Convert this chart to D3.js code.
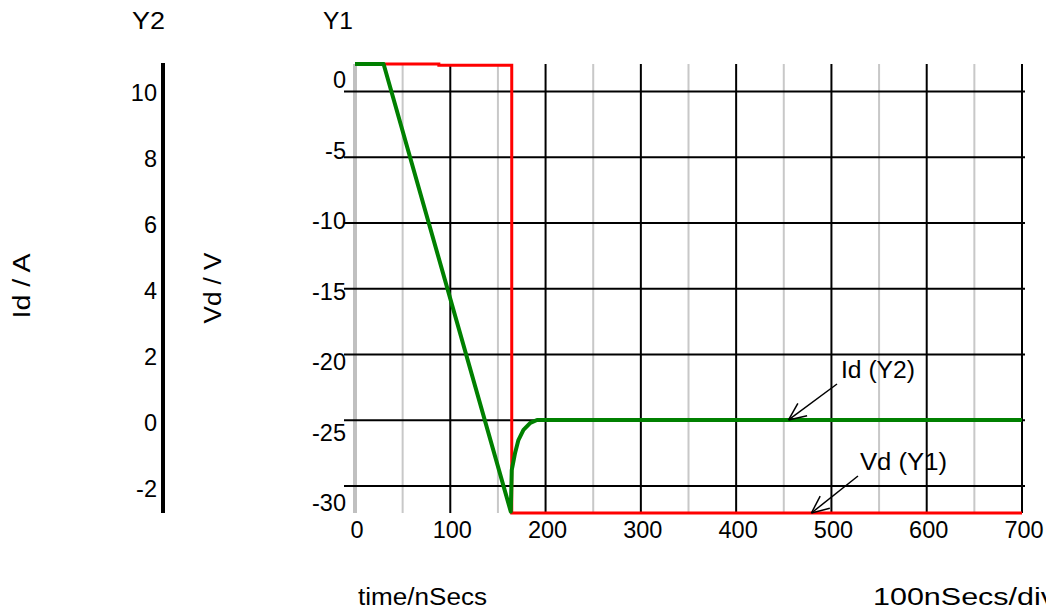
<!DOCTYPE html>
<html>
<head>
<meta charset="utf-8">
<script src="https://cdn.jsdelivr.net/npm/d3@7"></script>
<style>
  body { margin: 0; background: #fff; }
  text { font-family: "Liberation Sans", Arial, sans-serif; fill: #000; }
</style>
</head>
<body>
<div class="container"></div>
<script>
// chart size
const width = 1046;
const height = 610;
const plot = { left: 355, right: 1022, top: 64, bottom: 513 };

// data
const xTicks = [0, 100, 200, 300, 400, 500, 600, 700];
const xMinor = [50, 150, 250, 350, 450, 550, 650];
const y1Ticks = [0, -5, -10, -15, -20, -25, -30];
const y2Ticks = [10, 8, 6, 4, 2, 0, -2];

// Vd (Y1), volts
const vdTime = [0, 88, 88, 164.5, 164.5, 700];
const vdValue = [2.1, 2.1, 2.0, 2.0, -32.05, -32.05];

// Id (Y2), amps
const idTime = [0, 30, 163.5, 164.5, 168, 171.5, 176.8, 184, 191, 700];
const idValue = [10.79, 10.79, -2.78, -1.52, -1.0, -0.61, -0.30, -0.09, 0, 0];

const svg = d3.select(".container")
  .append("svg")
  .attr("width", width)
  .attr("height", height);

// scales
const x = d3.scaleLinear().domain([0, 700]).range([plot.left, plot.right]);
const y1 = d3.scaleLinear().domain([-32.05, 2.1]).range([plot.bottom, plot.top]);
const y2 = d3.scaleLinear().domain([-2.82, 10.79]).range([plot.bottom, plot.top]);
// the Y1 numbers are spread evenly and do not sit exactly on their grid lines
const y1Label = d3.scaleLinear().domain([0, -30]).range([80, 503]);

const fs = 23.5;

// helper for the stretched looking labels
function label(tx, ty, str, len, anchor, rot) {
  const t = svg.append("text")
    .attr("font-size", fs)
    .attr("text-anchor", anchor || "start")
    .attr("textLength", len)
    .attr("lengthAdjust", "spacingAndGlyphs")
    .text(str);
  if (rot) t.attr("transform", `translate(${tx},${ty}) rotate(${rot})`);
  else t.attr("x", tx).attr("y", ty);
  return t;
}

// minor vertical grid (grey)
svg.append("g")
  .selectAll("line")
  .data(xMinor)
  .join("line")
  .attr("x1", d => x(d)).attr("x2", d => x(d))
  .attr("y1", plot.top).attr("y2", plot.bottom)
  .attr("stroke", "#c8c8c8")
  .attr("stroke-width", 2);

// major vertical grid (black), the one at 0 is the grey axis line
svg.append("g")
  .selectAll("line")
  .data(xTicks)
  .join("line")
  .attr("x1", d => x(d)).attr("x2", d => x(d))
  .attr("y1", plot.top).attr("y2", plot.bottom)
  .attr("stroke", d => d === 0 ? "#c0c0c0" : "#000")
  .attr("stroke-width", d => d === 0 ? 4 : 2);

// horizontal grid lines, sticking out a bit on the left as ticks
svg.append("g")
  .selectAll("line")
  .data(y1Ticks)
  .join("line")
  .attr("x1", plot.left - 11).attr("x2", plot.right + 3)
  .attr("y1", d => y1(d)).attr("y2", d => y1(d))
  .attr("stroke", "#000")
  .attr("stroke-width", 2);

// Y1 tick labels
svg.append("g")
  .selectAll("text")
  .data(y1Ticks)
  .join("text")
  .attr("x", plot.left - 9)
  .attr("y", d => y1Label(d) + 8)
  .attr("text-anchor", "end")
  .attr("font-size", fs)
  .text(d => d);

// x tick labels
svg.append("g")
  .selectAll("text")
  .data(xTicks)
  .join("text")
  .attr("x", d => x(d) + 2)
  .attr("y", 538)
  .attr("text-anchor", "middle")
  .attr("font-size", fs)
  .text(d => d);

// Y2 axis
svg.append("line")
  .attr("x1", 163).attr("x2", 163)
  .attr("y1", plot.top - 1).attr("y2", plot.bottom)
  .attr("stroke", "#000")
  .attr("stroke-width", 4);

svg.append("g")
  .selectAll("text")
  .data(y2Ticks)
  .join("text")
  .attr("x", 157)
  .attr("y", d => y2(d) + 11)
  .attr("text-anchor", "end")
  .attr("font-size", fs)
  .text(d => d);

// axis titles
label(132, 29, "Y2", 33);
label(323, 29, "Y1", 30);
label(30, 286, "Id / A", 65, "middle", -90);
label(221, 288, "Vd / V", 71, "middle", -90);
label(358, 605, "time/nSecs", 129);
label(873, 605, "100nSecs/div", 183);

// traces
const vdLine = d3.line().x(d => x(d[0])).y(d => y1(d[1]));
const idLine = d3.line().x(d => x(d[0])).y(d => y2(d[1]));

svg.append("path")
  .datum(d3.zip(vdTime, vdValue))
  .attr("d", vdLine)
  .attr("fill", "none")
  .attr("stroke", "#ff0000")
  .attr("stroke-width", 3);

svg.append("path")
  .datum(d3.zip(idTime, idValue))
  .attr("d", idLine)
  .attr("fill", "none")
  .attr("stroke", "#008000")
  .attr("stroke-width", 4)
  .attr("stroke-linejoin", "round");

// annotation arrows
function arrow(tipX, tipY, fromX, fromY) {
  const g = svg.append("g").attr("stroke", "#000").attr("stroke-width", 1.5).attr("fill", "none");
  g.append("line").attr("x1", fromX).attr("y1", fromY).attr("x2", tipX).attr("y2", tipY);
  const ang = Math.atan2(fromY - tipY, fromX - tipX);
  const len = 19, spread = 0.42;
  [ang - spread, ang + spread].forEach(a => {
    g.append("line")
      .attr("x1", tipX).attr("y1", tipY)
      .attr("x2", tipX + len * Math.cos(a))
      .attr("y2", tipY + len * Math.sin(a));
  });
}

arrow(x(455), y2(0), 837, 384);
label(841, 378, "Id (Y2)", 74);

arrow(x(479), y1(-32.05), 858, 476);
label(860, 470, "Vd (Y1)", 87);
</script>
</body>
</html>
